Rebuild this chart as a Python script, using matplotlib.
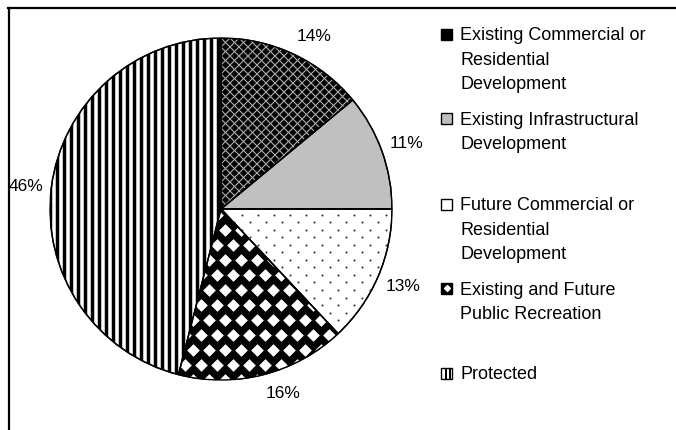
import matplotlib
matplotlib.use("Agg")
import matplotlib.pyplot as plt
import numpy as np
from matplotlib.patches import Rectangle, Wedge
from matplotlib.lines import Line2D
from matplotlib.collections import LineCollection

# ---- data ----
categories = ["Existing Commercial or\nResidential\nDevelopment",
              "Existing Infrastructural\nDevelopment",
              "Future Commercial or\nResidential\nDevelopment",
              "Existing and Future\nPublic Recreation",
              "Protected"]
shares = [14, 11, 13, 16, 46]

plt.rcParams['font.family'] = ['Liberation Sans', 'DejaVu Sans']

W, H, DPI = 676, 430, 100
fig = plt.figure(figsize=(W / DPI, H / DPI), dpi=DPI)
cx, cy, R = 221, 209, 171  # pixel geometry of the pie
ax = fig.add_axes([(cx - R) / W, (H - cy - R) / H, 2 * R / W, 2 * R / H])

faces = ['black', '#c0c0c0', 'white', 'black', 'white']
wedges, _ = ax.pie(
    shares, colors=faces, startangle=90, counterclock=False,
    wedgeprops=dict(edgecolor='black', linewidth=1.0))
ax.set_xlim(-1, 1)
ax.set_ylim(-1, 1)
ax.set_aspect('equal')
ax.axis('off')

px = 1.0 / R  # one pixel in data units

# --- percentage labels placed just outside each wedge ---
lw_px, lh_px = 34, 14
for w, s in zip(wedges, shares):
    th = np.deg2rad((w.theta1 + w.theta2) / 2)
    c, si = np.cos(th), np.sin(th)
    anchor = (1.05 * c, 1.07 * si)
    dx = lw_px / 2 * np.clip(4 * c, -1, 1) * 0.72
    dy = lh_px / 2 * np.sign(si) * np.clip((abs(si) - 0.15) * 3, 0, 1) * 0.72
    ax.annotate(f"{s}%", xy=anchor, xytext=(dx, dy), textcoords='offset points',
                ha='center', va='center', fontsize=12.5, color='black',
                annotation_clip=False)

# --- textures (decoration clipped to each wedge) ---
P = 9 * px
cs = np.arange(-3, 3, P)
segs = [[(-2, -2 + c), (2, 2 + c)] for c in cs] + [[(-2, 2 + c), (2, -2 + c)] for c in cs]
lc = LineCollection(segs, colors='#b0b0b0', linewidths=0.8, zorder=2)
ax.add_collection(lc)
lc.set_clip_path(wedges[0])

pts = []
for j, y in enumerate(np.arange(-1, 1, 7.5 * px)):
    for x in np.arange(-1, 1, 16 * px):
        pts.append((x + (j % 2) * 8 * px, y))
pts = np.array(pts)
sc = ax.scatter(pts[:, 0], pts[:, 1], s=2.2, c='#333333', linewidths=0, zorder=2)
sc.set_clip_path(wedges[2])

pts = []
for j, y in enumerate(np.arange(-1, 1, 15 * px)):
    for x in np.arange(-1.1, 1.1, 16 * px):
        pts.append((x + (j % 2) * 8 * px, y))
pts = np.array(pts)
sc2 = ax.scatter(pts[:, 0], pts[:, 1], s=42, marker='D', c='white', linewidths=0, zorder=2)
sc2.set_clip_path(wedges[3])

xs = np.arange(-1, 1, 7 * px)
lc5 = LineCollection([[(x, -1), (x, 1)] for x in xs], colors='black', linewidths=2.5, zorder=2)
ax.add_collection(lc5)
lc5.set_clip_path(wedges[4])

for w in wedges:
    ax.add_patch(Wedge(w.center, w.r, w.theta1, w.theta2, fill=False,
                       edgecolor='black', linewidth=1.0, zorder=3))

# --- frame (only top and left visible) ---
fig.add_artist(Line2D([8 / W, 1], [1 - 7.5 / H, 1 - 7.5 / H], color='black', lw=1.6,
                      transform=fig.transFigure))
fig.add_artist(Line2D([8.5 / W, 8.5 / W], [0, 1 - 7.5 / H], color='black', lw=1.6,
                      transform=fig.transFigure))

# --- legend (manual) ---
sq_y = [34, 118, 204, 288, 373]
txt_y = [58.5, 130.5, 228.5, 300.5, 373]
sq = 11
for i, lab in enumerate(categories):
    x0 = 441
    y0 = sq_y[i] - sq / 2
    rect_kw = dict(transform=fig.transFigure, linewidth=1.0, edgecolor='black')
    fx, fy, fw, fh = x0 / W, 1 - (y0 + sq) / H, sq / W, sq / H
    if i == 0:
        with plt.rc_context({'hatch.color': '#a0a0a0', 'hatch.linewidth': 0.6}):
            r = Rectangle((fx, fy), fw, fh, facecolor='black', hatch='xxxxxx', **rect_kw)
    elif i == 1:
        r = Rectangle((fx, fy), fw, fh, facecolor='#c0c0c0', **rect_kw)
    elif i == 2:
        r = Rectangle((fx, fy), fw, fh, facecolor='white', **rect_kw)
    elif i == 3:
        r = Rectangle((fx, fy), fw, fh, facecolor='black', **rect_kw)
    else:
        r = Rectangle((fx, fy), fw, fh, facecolor='white', **rect_kw)
    fig.add_artist(r)
    if i == 3:
        fig.add_artist(Line2D([(x0 + sq / 2) / W], [1 - sq_y[i] / H], marker='D', ms=3,
                              color='white', transform=fig.transFigure))
    if i == 4:
        for bx in (x0 + 3.5, x0 + 7.5):
            fig.add_artist(Rectangle((bx / W, fy), 2 / W, fh, facecolor='black',
                                     edgecolor='none', transform=fig.transFigure))
    fig.text(460 / W, 1 - (txt_y[i] + 1.8) / H, lab, fontsize=13, ha='left', va='center',
             linespacing=1.58)

fig.savefig("out.png", dpi=DPI)
